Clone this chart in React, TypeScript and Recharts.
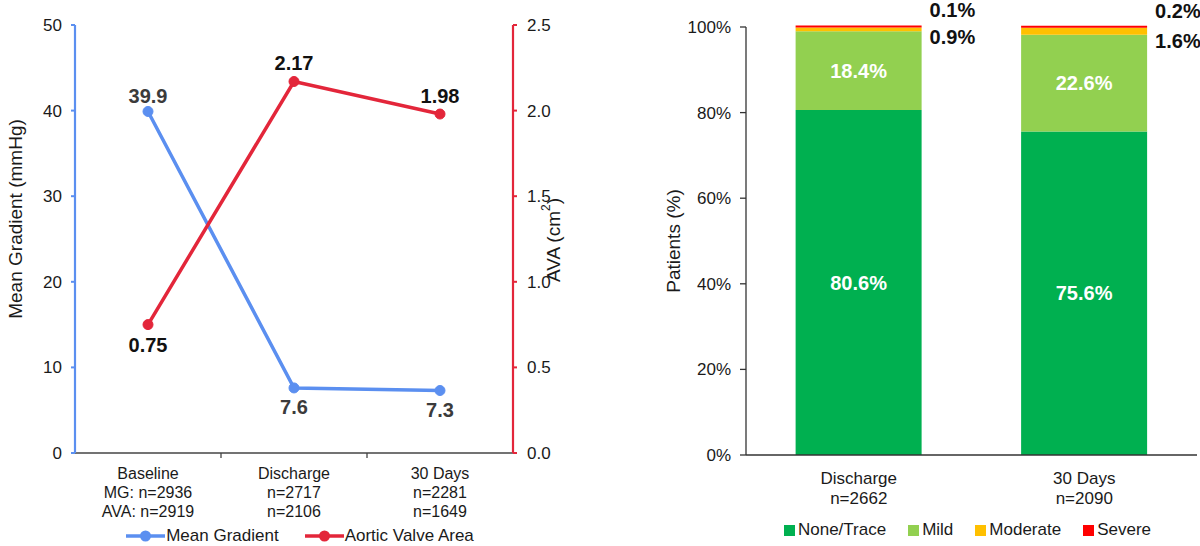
import React from 'react';
import { LineChart, Line, BarChart, Bar, XAxis, YAxis, Legend, Label } from 'recharts';

// ---------- Left panel data ----------
const lineCategories = ['Baseline', 'Discharge', '30 Days'];
const lineCategorySubLabels = [
  ['MG: n=2936', 'AVA: n=2919'],
  ['n=2717', 'n=2106'],
  ['n=2281', 'n=1649'],
];
const meanGradient = [39.9, 7.6, 7.3];
const aorticValveArea = [0.75, 2.17, 1.98];
const mgTicks = [0, 10, 20, 30, 40, 50];
const avaTicks = [0, 0.5, 1, 1.5, 2, 2.5];
const lineSeriesNames = ['Mean Gradient', 'Aortic Valve Area'];

// ---------- Right panel data ----------
const barCategories = ['Discharge', '30 Days'];
const barCategorySubLabels = ['n=2662', 'n=2090'];
const noneTrace = [80.6, 75.6];
const mild = [18.4, 22.6];
const moderate = [0.9, 1.6];
const severe = [0.1, 0.2];
const pctTicks = [0, 20, 40, 60, 80, 100];
const barSeriesNames = ['None/Trace', 'Mild', 'Moderate', 'Severe'];

const lineData = lineCategories.map((cat, i) => ({
  cat,
  mg: meanGradient[i],
  ava: aorticValveArea[i],
}));
const barData = barCategories.map((cat, i) => ({
  cat,
  none: noneTrace[i],
  mild: mild[i],
  moderate: moderate[i],
  severe: severe[i],
}));

// ---------- style constants ----------
const FONT = '"Liberation Sans", Arial, Helvetica, sans-serif';
const BLUE = '#5b8ff0';
const RED = '#e3263a';
const GREEN = '#00b050';
const LIGHT_GREEN = '#92d050';
const AMBER = '#ffc000';
const BRIGHT_RED = '#ff0000';
const HALF_BAND = 73;
const mgLabelAbove = [true, false, false];
const avaLabelAbove = [false, true, true];

const getBox = (p: any) => ({
  x: p.x ?? p.viewBox?.x ?? 0,
  y: p.y ?? p.viewBox?.y ?? 0,
  width: p.width ?? p.viewBox?.width ?? 0,
  height: p.height ?? p.viewBox?.height ?? 0,
});

const orderPayload = (payload: any[], names: string[]) =>
  [...payload].sort((a, b) => names.indexOf(a.value) - names.indexOf(b.value));

const LeftXTick = (props: any) => {
  const { x, y, index } = props;
  const lines = [lineCategories[index], ...lineCategorySubLabels[index]];
  return (
    <g>
      {index > 0 && (
        <line x1={x - HALF_BAND} x2={x - HALF_BAND} y1={y} y2={y + 5} stroke="#444" strokeWidth={1.3} />
      )}
      {lines.map((t, i) => (
        <text key={i} x={x} y={y + 26 + i * 19} textAnchor="middle" fontSize={16} fill="#1a1a1a">
          {t}
        </text>
      ))}
    </g>
  );
};

const RightXTick = (props: any) => {
  const { x, y, index } = props;
  const lines = [barCategories[index], barCategorySubLabels[index]];
  return (
    <g>
      {lines.map((t, i) => (
        <text key={i} x={x} y={y + 29 + i * 20} textAnchor="middle" fontSize={17} fill="#1a1a1a">
          {t}
        </text>
      ))}
    </g>
  );
};

const makePointLabel = (
  values: number[],
  above: boolean[],
  digits: number,
  color: string,
  upOffset: number,
  downOffset: number
) => (p: any) => {
  const { x, y } = getBox(p);
  const i = p.index;
  const dy = above[i] ? -upOffset : downOffset;
  return (
    <text
      x={x}
      y={y + dy}
      textAnchor="middle"
      dominantBaseline="central"
      fontSize={20}
      fontWeight="bold"
      fill={color}
    >
      {values[i].toFixed(digits)}
    </text>
  );
};

const makeInsideLabel = (values: number[]) => (p: any) => {
  const { x, y, width, height } = getBox(p);
  return (
    <text
      x={x + width / 2}
      y={y + height / 2}
      textAnchor="middle"
      dominantBaseline="central"
      fontSize={20}
      fontWeight="bold"
      fill="#ffffff"
    >
      {`${values[p.index].toFixed(1)}%`}
    </text>
  );
};

const makeOutsideLabel = (values: number[], mode: 'top' | 'below') => (p: any) => {
  const { x, y, width, height } = getBox(p);
  const ty = mode === 'top' ? y - 15 : y + height + 6;
  return (
    <text
      x={x + width + 8}
      y={ty}
      textAnchor="start"
      dominantBaseline="central"
      fontSize={20}
      fontWeight="bold"
      fill="#111"
    >
      {`${values[p.index].toFixed(1)}%`}
    </text>
  );
};

const LineLegend = (props: any) => {
  const payload = orderPayload(props.payload || [], lineSeriesNames);
  return (
    <div
      style={{
        display: 'flex',
        justifyContent: 'center',
        alignItems: 'center',
        gap: 26,
        fontSize: 17,
        color: '#1a1a1a',
        lineHeight: '22px',
        fontFamily: FONT,
      }}
    >
      {payload.map((e: any) => (
        <div key={e.value} style={{ display: 'flex', alignItems: 'center' }}>
          <svg width={39} height={14} style={{ display: 'block' }}>
            <line x1={0} x2={39} y1={7} y2={7} stroke={e.color} strokeWidth={3.5} />
            <circle cx={19.5} cy={7} r={5.5} fill={e.color} />
          </svg>
          <span style={{ marginLeft: 1 }}>{e.value}</span>
        </div>
      ))}
    </div>
  );
};

const BarLegend = (props: any) => {
  const payload = orderPayload(props.payload || [], barSeriesNames);
  return (
    <div
      style={{
        display: 'flex',
        justifyContent: 'center',
        alignItems: 'center',
        gap: 22,
        fontSize: 17,
        color: '#1a1a1a',
        lineHeight: '22px',
        fontFamily: FONT,
      }}
    >
      {payload.map((e: any) => (
        <div key={e.value} style={{ display: 'flex', alignItems: 'center' }}>
          <span style={{ display: 'inline-block', width: 11, height: 11, background: e.color, marginRight: 3 }} />
          <span>{e.value}</span>
        </div>
      ))}
    </div>
  );
};

const LeftPanel = () => (
  <LineChart width={600} height={546} data={lineData} margin={{ top: 25, right: 0, bottom: 0, left: 0 }}>
    <XAxis
      dataKey="cat"
      height={93}
      padding={{ left: HALF_BAND, right: HALF_BAND }}
      axisLine={{ stroke: '#444', strokeWidth: 1.3 }}
      tickLine={false}
      tickSize={0}
      tickMargin={0}
      interval={0}
      tick={<LeftXTick />}
    />
    <YAxis
      yAxisId="mg"
      orientation="left"
      width={75}
      domain={[0, 50]}
      ticks={mgTicks}
      interval={0}
      axisLine={{ stroke: BLUE, strokeWidth: 2.2 }}
      tickLine={{ stroke: BLUE, strokeWidth: 2 }}
      tickSize={4}
      tickMargin={9}
      tick={{ fill: '#1a1a1a', fontSize: 17 }}
    >
      <Label
        content={() => (
          <text
            x={15}
            y={219}
            transform="rotate(-90 15 219)"
            textAnchor="middle"
            dominantBaseline="central"
            fontSize={19}
            fill="#1a1a1a"
          >
            Mean Gradient (mmHg)
          </text>
        )}
      />
    </YAxis>
    <YAxis
      yAxisId="ava"
      orientation="right"
      width={87}
      domain={[0, 2.5]}
      ticks={avaTicks}
      interval={0}
      tickFormatter={(v: number) => v.toFixed(1)}
      axisLine={{ stroke: RED, strokeWidth: 2.2 }}
      tickLine={{ stroke: RED, strokeWidth: 2 }}
      tickSize={4}
      tickMargin={10}
      tick={{ fill: '#1a1a1a', fontSize: 17 }}
    >
      <Label
        content={() => (
          <text
            x={553}
            y={240}
            transform="rotate(-90 553 240)"
            textAnchor="middle"
            dominantBaseline="central"
            fontSize={19}
            fill="#1a1a1a"
          >
            <tspan>AVA (cm</tspan>
            <tspan dy={-7} fontSize={12}>2</tspan>
            <tspan dy={7}>)</tspan>
          </text>
        )}
      />
    </YAxis>
    <Line
      yAxisId="mg"
      dataKey="mg"
      name="Mean Gradient"
      stroke={BLUE}
      strokeWidth={3.5}
      dot={{ r: 5, fill: BLUE, stroke: BLUE, strokeWidth: 1 }}
      activeDot={false}
      isAnimationActive={false}
      label={makePointLabel(meanGradient, mgLabelAbove, 1, '#3b3b3b', 15, 19)}
    />
    <Line
      yAxisId="ava"
      dataKey="ava"
      name="Aortic Valve Area"
      stroke={RED}
      strokeWidth={3.5}
      dot={{ r: 5, fill: RED, stroke: RED, strokeWidth: 1 }}
      activeDot={false}
      isAnimationActive={false}
      label={makePointLabel(aorticValveArea, avaLabelAbove, 2, '#111111', 18, 20)}
    />
    <Legend
      layout="horizontal"
      verticalAlign="middle"
      align="center"
      content={<LineLegend />}
      wrapperStyle={{ top: 525, left: 0, width: 600, height: 22 }}
    />
  </LineChart>
);

const RightPanel = () => (
  <BarChart
    width={600}
    height={546}
    data={barData}
    margin={{ top: 27, right: 3, bottom: 0, left: 0 }}
    barCategoryGap="22%"
  >
    <XAxis
      dataKey="cat"
      height={91}
      axisLine={{ stroke: '#333', strokeWidth: 1.3 }}
      tickLine={false}
      tickSize={0}
      tickMargin={0}
      interval={0}
      tick={<RightXTick />}
    />
    <YAxis
      width={146}
      domain={[0, 100]}
      ticks={pctTicks}
      interval={0}
      tickFormatter={(v: number) => `${v}%`}
      axisLine={{ stroke: '#333', strokeWidth: 1.3 }}
      tickLine={{ stroke: '#333', strokeWidth: 1.3 }}
      tickSize={6}
      tickMargin={9}
      tick={{ fill: '#1a1a1a', fontSize: 17 }}
    >
      <Label
        content={() => (
          <text
            x={73}
            y={241}
            transform="rotate(-90 73 241)"
            textAnchor="middle"
            dominantBaseline="central"
            fontSize={19}
            fill="#1a1a1a"
          >
            Patients (%)
          </text>
        )}
      />
    </YAxis>
    <Bar dataKey="none" name="None/Trace" stackId="s" fill={GREEN} isAnimationActive={false} label={makeInsideLabel(noneTrace)} />
    <Bar dataKey="mild" name="Mild" stackId="s" fill={LIGHT_GREEN} isAnimationActive={false} label={makeInsideLabel(mild)} />
    <Bar dataKey="moderate" name="Moderate" stackId="s" fill={AMBER} isAnimationActive={false} label={makeOutsideLabel(moderate, 'below')} />
    <Bar
      dataKey="severe"
      name="Severe"
      stackId="s"
      fill={BRIGHT_RED}
      minPointSize={2}
      isAnimationActive={false}
      label={makeOutsideLabel(severe, 'top')}
    />
    <Legend
      layout="horizontal"
      verticalAlign="middle"
      align="center"
      content={<BarLegend />}
      wrapperStyle={{ top: 519, left: 137, width: 461, height: 22 }}
    />
  </BarChart>
);

export default function App() {
  return (
    <div
      style={{
        position: 'absolute',
        left: 0,
        top: 0,
        width: 1200,
        height: 546,
        background: '#ffffff',
        fontFamily: FONT,
        display: 'flex',
        overflow: 'hidden',
      }}
    >
      <LeftPanel />
      <RightPanel />
    </div>
  );
}
